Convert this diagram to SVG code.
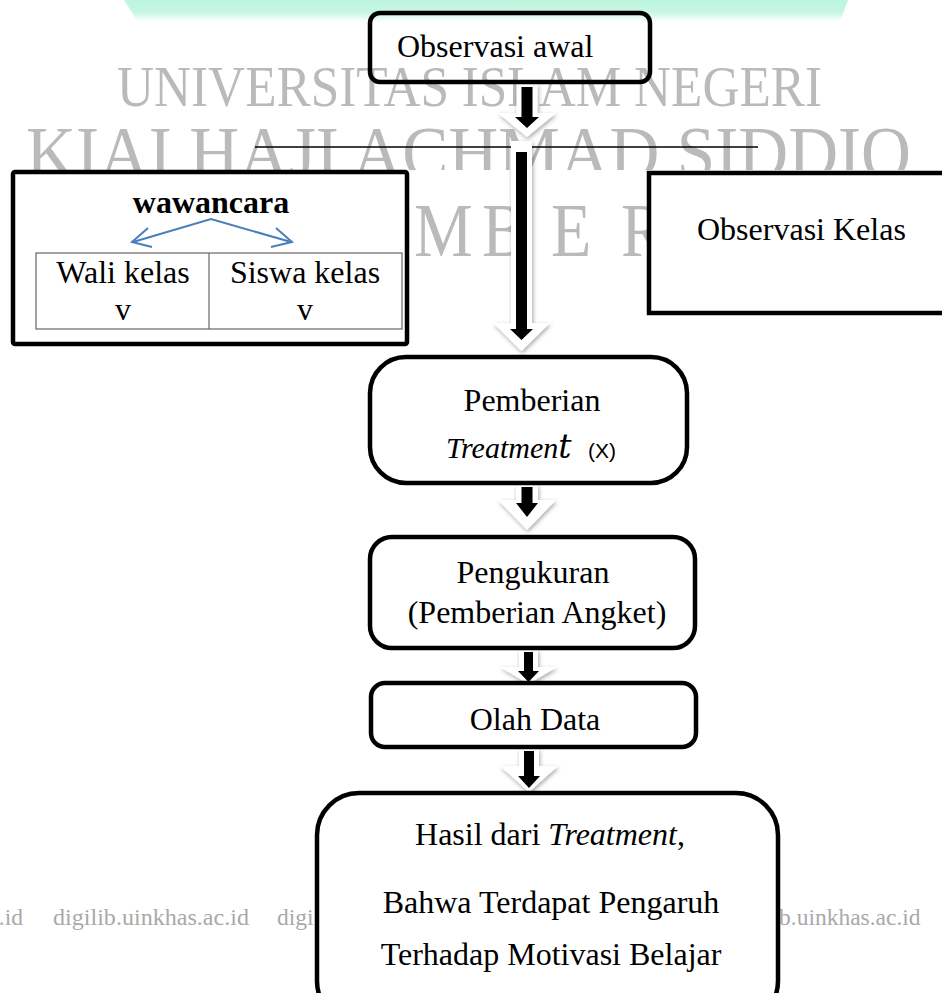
<svg xmlns="http://www.w3.org/2000/svg" width="942" height="993" viewBox="0 0 942 993">
<defs>
  <linearGradient id="band" x1="0" y1="0" x2="0" y2="1">
    <stop offset="0" stop-color="#bdf5de"/>
    <stop offset="0.55" stop-color="#c6f6e4"/>
    <stop offset="1" stop-color="#ffffff"/>
  </linearGradient>
  <filter id="sh" x="-50%" y="-20%" width="200%" height="140%">
    <feDropShadow dx="1" dy="2" stdDeviation="2" flood-color="#000" flood-opacity="0.35"/>
  </filter>
  <clipPath id="wmclip"><rect x="0" y="0" width="942" height="170"/></clipPath>
</defs>
<style>
  .t{font-family:"Liberation Serif","Times New Roman",serif;font-size:32px;fill:#000}
  .c{text-anchor:middle}
  .box{fill:#fff;stroke:#000;stroke-width:4.5}
  .wm{font-family:"Liberation Serif","Times New Roman",serif;fill:#bababa}
  .ft{font-family:"Liberation Serif","Times New Roman",serif;font-size:23.5px;fill:#a9a9a9}
  .wa{fill:#fff;filter:url(#sh)}
  .ba{fill:#000}
  .cell{fill:none;stroke:#666;stroke-width:1.2}
  .blue{fill:none;stroke:#4a7ebb;stroke-width:2}
</style>

<g id="background">
  <polygon points="124,0 848,0 840,22 138,22" fill="url(#band)"/>
  <text class="wm" x="117" y="106" font-size="56" textLength="705" lengthAdjust="spacingAndGlyphs">UNIVERSITAS ISLAM NEGERI</text>
  <g clip-path="url(#wmclip)">
    <text class="wm" x="26" y="178" font-size="74" textLength="885" lengthAdjust="spacingAndGlyphs">KIAI HAJI ACHMAD SIDDIQ</text>
  </g>
  <text class="wm" font-size="66" transform="translate(0,256) scale(1,1.15)" x="414 482 551 621" y="0">MBER</text>
  <text class="ft" x="23" y="925" text-anchor="end">.id</text>
  <text class="ft" x="53" y="925" textLength="196" lengthAdjust="spacingAndGlyphs">digilib.uinkhas.ac.id</text>
  <text class="ft" x="277" y="925">digi</text>
  <text class="ft" x="779" y="925">b.uinkhas.ac.id</text>
</g>

<g id="connectors">
  <line x1="255" y1="147" x2="758" y2="147" stroke="#000" stroke-width="1.6"/>
  <path class="wa" d="M516.5,84 H537.5 V113 H556 L527,137 L498,113 H516.5 Z"/>
  <path class="ba" d="M521.5,87 H532.5 V117 H539 L527,128 L515,117 H521.5 Z"/>
  <path class="wa" d="M511,141 H532 V323 H550 L521.5,351 L493,323 H511 Z"/>
  <path class="ba" d="M516,152 H527 V329 H533 L521.5,340 L510,329 H516 Z"/>
  <path class="wa" d="M516,485 H538 V500 H556 L527,530 L498,500 H516 Z"/>
  <path class="ba" d="M521.5,487 H532.5 V503 H538 L527,517 L516,503 H521.5 Z"/>
  <path class="wa" d="M519,650 H538 V667 H557 L528.5,684 L500,667 H519 Z"/>
  <path class="ba" d="M524,652 H533 V671 H539 L528.5,682 L518,671 H524 Z"/>
  <path class="wa" d="M519,749 H539 V766 H558 L529,792 L500,766 H519 Z"/>
  <path class="ba" d="M524,751 H534 V776 H540 L529,788 L518,776 H524 Z"/>
</g>

<g id="node-observasi-awal">
  <rect x="370" y="13" width="280" height="69" rx="10" fill="none" stroke="#000" stroke-width="4.5"/>
  <text class="t" x="397" y="57" font-size="31">Observasi awal</text>
</g>

<g id="node-wawancara">
  <rect class="box" x="13" y="172" width="394" height="172" rx="2"/>
  <text class="t" x="211" y="213" text-anchor="middle" font-weight="bold" font-size="29">wawancara</text>
  <polyline class="blue" points="133,242 211,219 291,242"/>
  <path class="blue" d="M148,228 L132,242 L152,247 M276,228 L292,242 L271,247"/>
  <rect class="cell" x="36" y="253" width="366" height="76"/>
  <line class="cell" x1="209" y1="253" x2="209" y2="329"/>
  <text class="t c" x="123" y="283" font-size="31">Wali kelas</text>
  <text class="t c" x="123" y="320" font-size="31">v</text>
  <text class="t c" x="305" y="283" font-size="31">Siswa kelas</text>
  <text class="t c" x="305" y="320" font-size="31">v</text>
</g>

<g id="node-observasi-kelas">
  <rect class="box" x="649" y="173" width="300" height="140"/>
  <text class="t" x="697" y="240">Observasi Kelas</text>
</g>

<g id="node-pemberian">
  <rect class="box" x="370" y="357" width="317" height="126" rx="36"/>
  <text class="t c" x="532" y="411">Pemberian</text>
  <text class="t" x="446" y="458"><tspan font-style="italic" font-size="30">Treatmen</tspan><tspan font-family="'DejaVu Serif',serif" font-style="italic" font-size="33">t</tspan><tspan x="588" font-family="'Liberation Sans',Arial,sans-serif" font-size="21">(X)</tspan></text>
</g>

<g id="node-pengukuran">
  <rect class="box" x="370" y="537" width="325" height="111" rx="22"/>
  <text class="t c" x="533" y="583">Pengukuran</text>
  <text class="t c" x="537" y="623">(Pemberian Angket)</text>
</g>

<g id="node-olah-data">
  <rect class="box" x="371" y="683" width="325" height="64" rx="14"/>
  <text class="t c" x="535" y="730">Olah Data</text>
</g>

<g id="node-hasil">
  <rect class="box" x="317" y="793" width="461" height="230" rx="42"/>
  <text class="t c" x="550" y="845">Hasil dari <tspan font-style="italic">Treatment</tspan>,</text>
  <text class="t c" x="551" y="913">Bahwa Terdapat Pengaruh</text>
  <text class="t c" x="551" y="965">Terhadap Motivasi Belajar</text>
</g>
</svg>
